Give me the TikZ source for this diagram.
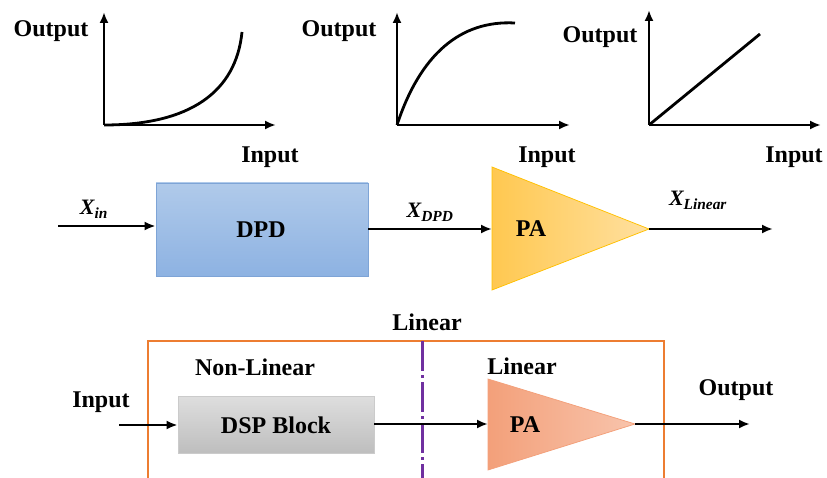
\documentclass[tikz,border=0pt]{standalone}
\usepackage{fontspec}
\setmainfont{Liberation Serif}
\usetikzlibrary{arrows.meta}

\definecolor{dpdtop}{RGB}{176,202,234}
\definecolor{dpdbot}{RGB}{141,178,226}
\definecolor{dpdline}{RGB}{126,164,214}
\definecolor{paleft}{RGB}{255,200,80}
\definecolor{paright}{RGB}{255,224,160}
\definecolor{paline}{RGB}{255,192,0}
\definecolor{pbleft}{RGB}{243,160,122}
\definecolor{pbright}{RGB}{248,196,172}
\definecolor{dsptop}{RGB}{222,222,222}
\definecolor{dspbot}{RGB}{190,190,190}
\definecolor{frameor}{RGB}{237,125,49}
\definecolor{splitpur}{RGB}{112,48,160}

\tikzset{every picture/.style={line width=0.75pt}}
\tikzset{
  lbl/.style={font=\fontsize{24}{28}\selectfont\bfseries, inner sep=0pt, anchor=base},
  sig/.style={font=\fontsize{22}{26}\selectfont\bfseries\itshape, inner sep=0pt, anchor=base},
  axis/.style={line width=2.8pt, -{Latex[length=11pt,width=9pt]}},
  curve/.style={line width=2.8pt},
  wire/.style={line width=2.5pt, -{Latex[length=11pt,width=9pt]}},
}

\begin{document}
\begin{tikzpicture}[x=1pt,y=1pt,yscale=-1,xscale=1]
        \useasboundingbox (0,0) rectangle (827,478);
        %Graph 1: expansion
        \coordinate (o1) at (104,125);
        \coordinate (ya) at (104,12);
        \coordinate (xa) at (276,125);
        \draw [axis] (o1) -- (ya);
        \draw [axis] (o1) -- (xa);
        \draw [curve] (o1) .. controls (190,125) and (236,92) .. (242,32);
        \node [lbl] (outa) at (51,37) {Output};
        \node [lbl] (ina) at (270,163) {Input};
        %Graph 2: compression
        \coordinate (o2) at (397,125);
        \coordinate (yb) at (397,12);
        \coordinate (xb) at (570,125);
        \draw [axis] (o2) -- (yb);
        \draw [axis] (o2) -- (xb);
        \draw [curve] (o2) .. controls (420,55) and (460,20) .. (515,23);
        \node [lbl] (outb) at (339,37) {Output};
        \node [lbl] (inb) at (547,163) {Input};
        %Graph 3: linear
        \coordinate (o3) at (649,125);
        \coordinate (yc) at (649,10);
        \coordinate (xc) at (821,125);
        \draw [axis] (o3) -- (yc);
        \draw [axis] (o3) -- (xc);
        \draw [curve] (o3) -- (760,34);
        \node [lbl] (outc) at (600,43) {Output};
        \node [lbl] (inc) at (794,163) {Input};

        %DPD chain
        \coordinate (xin) at (58,226);
        \node [draw=dpdline, line width=0.75pt, top color=dpdtop, bottom color=dpdbot,
               minimum width=212, minimum height=93, inner sep=0pt] (dpd) at (262,229.5) {};
        \node [lbl] (dpdtxt) at (261,238) {DPD};
        \coordinate (pain) at (492,167);
        \coordinate (paleftmid) at (492,229);
        \coordinate (paout) at (649,229);
        \shade [left color=paleft, right color=paright, draw=paline, line width=0.75pt]
              (pain) -- (paout) -- (492,290) -- cycle;
        \node [lbl] (patxt) at (531,237) {PA};
        \coordinate (xlin) at (773,229);
        \draw [wire] (xin) -- (xin -| dpd.west);
        \draw [wire] (dpd.east |- paleftmid) -- (paleftmid);
        \draw [wire] (paout) -- (xlin);
        \node [sig] (lxin) at (94,215) {X\textsubscript{in}};
        \node [sig] (lxdpd) at (430,218) {X\textsubscript{DPD}};
        \node [sig] (lxlin) at (698,206) {X\textsubscript{Linear}};

        %Linear system
        \draw [frameor, line width=1.6pt] (148,480) -- (148,341) -- (664,341) -- (664,480);
        \draw [splitpur, line width=3pt, dash pattern={on 30pt off 4pt on 3pt off 4pt}]
              (422,341) -- (422,480);
        \node [lbl] (linsys) at (427,330) {Linear};
        \node [lbl] (nonlin) at (255,375) {Non-Linear};
        \node [lbl] (linpa) at (522,374) {Linear};
        \node [lbl] (inp) at (101,407) {Input};
        \node [lbl] (outp) at (736,395) {Output};
        \coordinate (inpt) at (119,425);
        \node [draw=dspbot!80, line width=0.75pt, top color=dsptop, bottom color=dspbot,
               minimum width=196, minimum height=57, inner sep=0pt] (dsp) at (276,424.5) {};
        \node [lbl] (dsptxt) at (276,433) {DSP Block};
        \coordinate (pbin) at (488,379);
        \coordinate (pbleftmid) at (488,424);
        \coordinate (pbout) at (635,424);
        \shade [left color=pbleft, right color=pbright, draw=pbleft, line width=0.75pt]
              (pbin) -- (pbout) -- (488,470) -- cycle;
        \node [lbl] (pbtxt) at (525,432) {PA};
        \coordinate (outpt) at (750,424);
        \draw [wire] (inpt) -- (inpt -| dsp.west);
        \draw [wire] (dsp.east |- pbleftmid) -- (pbleftmid);
        \draw [wire] (pbout) -- (outpt);
\end{tikzpicture}
\end{document}
